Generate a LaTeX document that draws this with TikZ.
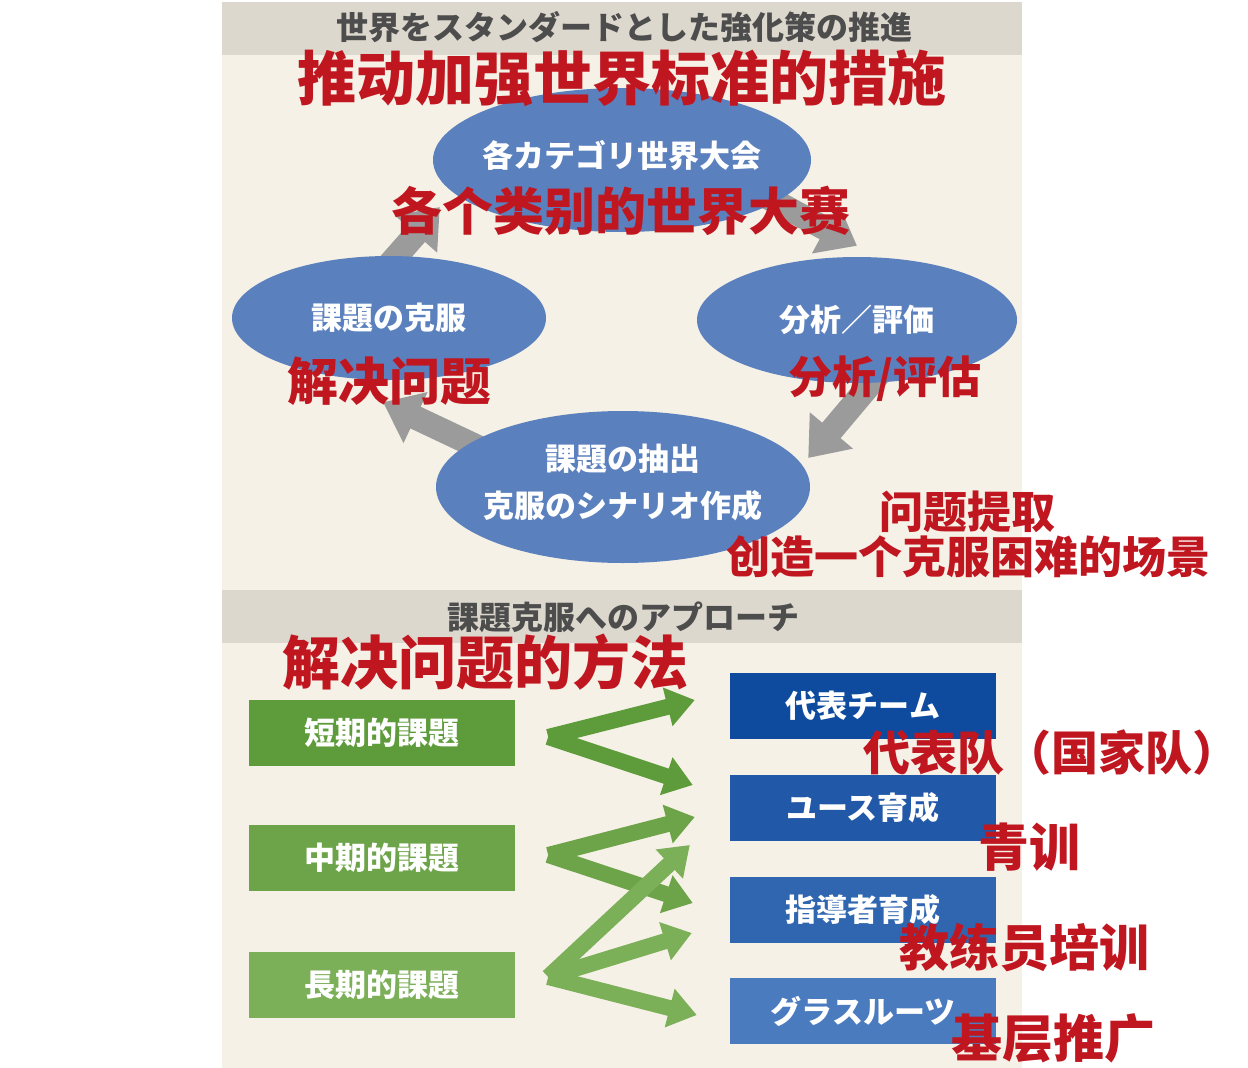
\documentclass[tikz,border=0pt]{standalone}
\usepackage{fontspec}
\newfontfamily\jpfont{Noto Sans CJK JP}
\newfontfamily\cnfont{Noto Sans CJK SC}
\usetikzlibrary{shapes.geometric,arrows.meta,calc}
\pgfdeclarelayer{back}
\pgfdeclarelayer{arrowlayer}
\pgfsetlayers{back,arrowlayer,main}
\newcommand{\zhsize}[1]{\cnfont\bfseries\fontsize{#1}{#1}\selectfont}
\definecolor{cream}{HTML}{F5F1E6}
\definecolor{band}{HTML}{DDD8CD}
\definecolor{headgrey}{HTML}{4D4D4D}
\definecolor{ellblue}{HTML}{5B80BE}
\definecolor{cycgrey}{HTML}{9B9B9B}
\definecolor{redlabel}{RGB}{192,22,32}
\definecolor{gshort}{HTML}{5E9B3B}
\definecolor{gmid}{HTML}{6EA449}
\definecolor{glong}{HTML}{7BAF58}
\definecolor{bteam}{HTML}{0E4B9F}
\definecolor{byouth}{HTML}{2258A8}
\definecolor{bcoach}{HTML}{3066B0}
\definecolor{bgrass}{HTML}{4B7BBF}

\begin{document}
\begin{tikzpicture}[x=1pt,y=-1pt]
	% Styles
	\tikzstyle{ellip}=[ellipse,fill=ellblue,inner sep=0pt]
	\tikzstyle{jptext}=[text=white,align=center,font=\jpfont\bfseries\fontsize{31}{47}\selectfont]
	\tikzstyle{box}=[rectangle,minimum width=266pt,minimum height=66pt,inner sep=0pt,text=white,font=\jpfont\bfseries\fontsize{31}{37}\selectfont]
	\tikzstyle{head}=[text=headgrey,font=\jpfont\bfseries\fontsize{32}{38}\selectfont]
	\tikzstyle{cyc}=[draw=cycgrey,line width=24pt,-{Triangle[length=36pt,width=54pt]}]
	\tikzstyle{garrow}=[line width=16pt,-{Triangle[length=28pt,width=38pt]}]
	\tikzstyle{zh}=[text=redlabel,inner sep=0pt]

	\useasboundingbox (0,0) rectangle (1248,1068);

	% Panel and header bands
	\begin{pgfonlayer}{back}
		\fill[white] (0,0) rectangle (1248,1068);
		\fill[cream] (222,2) rectangle (1022,1068);
		\fill[band] (222,2) rectangle (1022,55);
		\fill[band] (222,590) rectangle (1022,643);
	\end{pgfonlayer}
	\node[head] (head1) at (624,27) {世界をスタンダードとした強化策の推進};
	\node[head] (head2) at (623,617) {課題克服へのアプローチ};

	% Nodes for the cycle
	\node[ellip,minimum width=378pt,minimum height=144pt,label={[jptext,yshift=4pt]center:各カテゴリ世界大会}] (T) at (622,160) {};
	\node[ellip,minimum width=314pt,minimum height=124pt,label={[jptext]center:課題の克服}] (L) at (389,318) {};
	\node[ellip,minimum width=320pt,minimum height=126pt,label={[jptext]center:分析／評価}] (R) at (857,320) {};
	\node[ellip,minimum width=374pt,minimum height=152pt,label={[jptext,yshift=5pt]center:課題の抽出\\克服のシナリオ作成}] (B) at (623,487) {};

	% Connect the cycle
	\begin{pgfonlayer}{arrowlayer}
		\draw[cyc] ($(L.north)+(-9,19)$) -- ($(T.west)+(7,47)$);
		\draw[cyc] ($(T.east)+(-61,28)$) -- ($(R.north)+(0,-11)$);
		\draw[cyc] ($(R.south)+(31,-20)$) -- ($(B.east)+(-2,-29)$);
		\draw[cyc] ($(B.west)+(61,-31)$) -- ($(L.south)+(-6,22)$);
	\end{pgfonlayer}

	% Nodes for the issues
	\foreach \name/\y/\col/\txt in {short/733/gshort/短期的課題, mid/858/gmid/中期的課題, long/985/glong/長期的課題}
	\node[box,fill=\col] (\name) at (382,\y) {\txt};

	% Nodes for the fields
	\foreach \name/\y/\col/\txt in {team/706/bteam/代表チーム, youth/808/byouth/ユース育成, coach/910/bcoach/指導者育成, grass/1011/bgrass/グラスルーツ}
	\node[box,fill=\col] (\name) at (863,\y) {\txt};

	\coordinate (sv) at ($(short.east)+(33,4)$);
	\coordinate (mv) at ($(mid.east)+(33,-3)$);
	\coordinate (lv) at ($(long.east)+(33,-8)$);

	% Connect short-term issues
	\foreach \dest/\dx/\dy in {team/-35/-6, youth/-37/-23}
	\draw[garrow,draw=gshort] (sv) -- ($(\dest.west)+(\dx,\dy)$);

	% Connect mid-term issues
	\foreach \dest/\dx/\dy in {youth/-35/9, coach/-37/-7}
	\draw[garrow,draw=gmid] (mv) -- ($(\dest.west)+(\dx,\dy)$);

	% Connect long-term issues
	\foreach \dest/\dx/\dy in {youth/-40/37, coach/-38/23, grass/-33/4}
	\draw[garrow,draw=glong] (lv) -- ($(\dest.west)+(\dx,\dy)$);

	% Labels
	\node[zh,font=\zhsize{59}] (title) at (622,78) {推动加强世界标准的措施};
	\node[zh,font=\zhsize{51}] (cat) at (621,211) {各个类别的世界大赛};
	\node[zh,font=\zhsize{51}] (solve) at (389,381) {解决问题};
	\node[zh,font=\zhsize{44}] (anal) at (885,379) {分析/评估};
	\node[zh,font=\zhsize{44}] (extract) at (967,512) {问题提取};
	\node[zh,font=\zhsize{44}] (scene) at (968,557) {创造一个克服困难的场景};
	\node[zh,font=\zhsize{58}] (method) at (485,662) {解决问题的方法};
	\node[zh,font=\zhsize{47}] (nat) at (1051,753) {代表队（国家队）};
	\node[zh,font=\zhsize{51}] (yth) at (1029,847) {青训};
	\node[zh,font=\zhsize{50}] (coachzh) at (1024,947) {教练员培训};
	\node[zh,font=\zhsize{51}] (grasszh) at (1053,1038) {基层推广};
\end{tikzpicture}
\end{document}
